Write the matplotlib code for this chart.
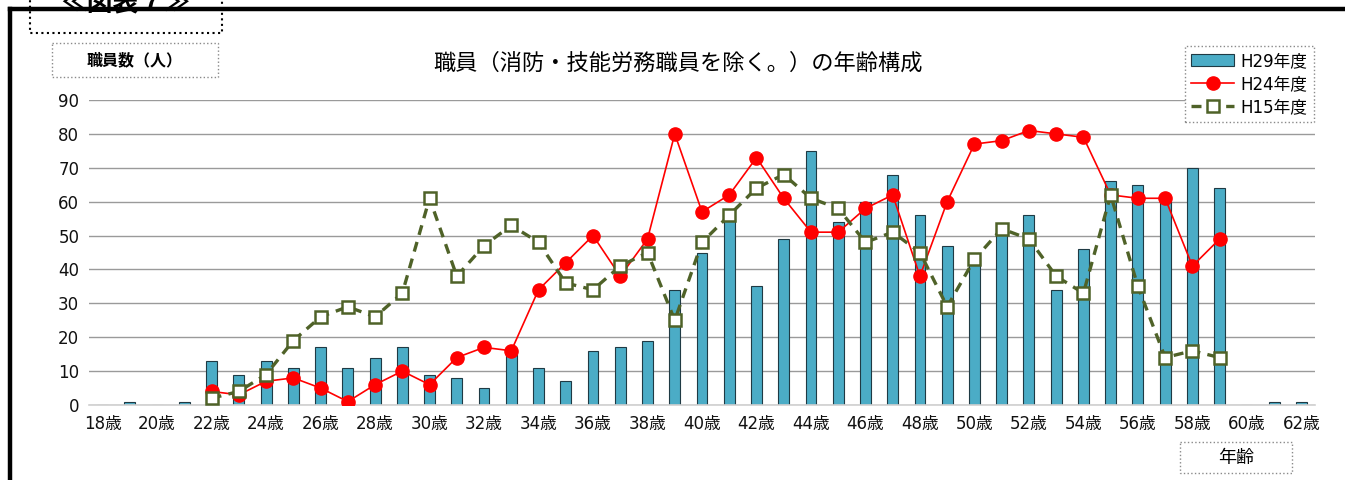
import numpy as np
import matplotlib
matplotlib.use('Agg')
import matplotlib.pyplot as plt
from matplotlib.patches import Rectangle
from matplotlib.lines import Line2D

plt.rcParams['font.family'] = ['Noto Sans CJK JP', 'DejaVu Sans']
latin_first = ['DejaVu Sans', 'Noto Sans CJK JP']

# ages 18..62, labels only on even ages
ages = list(range(18, 63))
age_labels = [f'{a}歳' if a % 2 == 0 else '' for a in ages]

# H29 (bars), one value per age 18..62
h29 = [0, 1, 0, 1, 13, 9, 13, 11, 17, 11, 14, 17, 9, 8, 5, 16, 11, 7, 16, 17,
       19, 34, 45, 55, 35, 49, 75, 54, 60, 68, 56, 47, 43, 52, 56, 34, 46, 66,
       65, 61, 70, 64, 0, 1, 1]

# line series cover ages 22..59
line_ages = list(range(22, 60))
h24 = [4, 3, 7, 8, 5, 1, 6, 10, 6, 14, 17, 16, 34, 42, 50, 38, 49, 80, 57, 62,
       73, 61, 51, 51, 58, 62, 38, 60, 77, 78, 81, 80, 79, 62, 61, 61, 41, 49]
h15 = [2, 4, 9, 19, 26, 29, 26, 33, 61, 38, 47, 53, 48, 36, 34, 41, 45, 25, 48, 56,
       64, 68, 61, 58, 48, 51, 45, 29, 43, 52, 49, 38, 33, 62, 35, 14, 16, 14]

y_ticks = list(range(0, 91, 10))

W, H = 1345, 480
fig = plt.figure(figsize=(W / 100, H / 100), dpi=100)

# main chart area
ax = fig.add_axes([89 / W, 75 / H, (1315 - 89) / W, 305 / H])
x = np.arange(len(ages))
lx = np.array([ages.index(a) for a in line_ages])

bars = ax.bar(x, h29, width=0.4, color='#4BACC6', edgecolor='#1F3A44',
              linewidth=0.8, label='H29年度', zorder=2)
l24, = ax.plot(lx, h24, color='#FF0000', linewidth=1.2, marker='o', markersize=9.5,
               label='H24年度', zorder=3)
l15, = ax.plot(lx, h15, color='#4F6228', linewidth=2.4, linestyle=(0, (3, 2.2)),
               marker='s', markersize=8.5, markerfacecolor='white',
               markeredgecolor='#4F6228', markeredgewidth=1.8, label='H15年度',
               zorder=4)

ax.set_xlim(-0.5, len(ages) - 0.5)
ax.set_ylim(0, 90)
ax.set_yticks(y_ticks)
ax.set_xticks(x)
ax.set_xticklabels(age_labels)
ax.tick_params(axis='both', length=0, labelsize=12, colors='#111111')
ax.tick_params(axis='y', pad=7)
ax.tick_params(axis='x', pad=7)
for lab in ax.get_xticklabels() + ax.get_yticklabels():
    lab.set_family(latin_first)
ax.grid(axis='y', color='#9A9A9A', linewidth=1.0, zorder=0)
ax.set_axisbelow(True)
for s in ['top', 'right', 'left']:
    ax.spines[s].set_visible(False)
ax.spines['bottom'].set_color('#D0D0D0')
ax.spines['bottom'].set_linewidth(1.2)

leg = ax.legend([bars, l24, l15], ['H29年度', 'H24年度', 'H15年度'],
                loc='upper left', bbox_to_anchor=(1185 / W, 1 - 46 / H),
                bbox_transform=fig.transFigure, frameon=True,
                prop={'family': latin_first, 'size': 12},
                fancybox=False, framealpha=1, borderpad=0.35, labelspacing=0.3,
                handlelength=2.6, handletextpad=0.4, borderaxespad=0)
leg.get_frame().set_edgecolor('#8A8A8A')
leg.get_frame().set_linestyle(':')
leg.get_frame().set_linewidth(1.0)

# overlay for frame and text boxes, in pixel coords
ov = fig.add_axes([0, 0, 1, 1], zorder=5)
ov.set_xlim(0, W)
ov.set_ylim(H, 0)
ov.axis('off')
ov.patch.set_alpha(0)

# thick outer frame
ov.add_line(Line2D([10, 10], [9, H], color='black', linewidth=3.2))
ov.add_line(Line2D([10, W], [9, 9], color='black', linewidth=3.2))

# figure number box (top cut off as in the source)
ov.add_patch(Rectangle((30, -5), 192, 38, facecolor='white', edgecolor='black',
                       linestyle=':', linewidth=1.5))
ov.text(126, 4, '≪図表７≫', ha='center', va='center', fontsize=18.5,
        fontweight='bold')

# y axis label box
ov.add_patch(Rectangle((52, 43), 166, 34, facecolor='white', edgecolor='#8A8A8A',
                       linestyle=':', linewidth=1.0))
ov.text(135, 60, '職員数（人）', ha='center', va='center', fontsize=11.5,
        fontweight='bold')

# title
ov.text(678, 63, '職員（消防・技能労務職員を除く。）の年齢構成', ha='center',
        va='center', fontsize=16)

# x axis label box
ov.add_patch(Rectangle((1180, 442), 112, 31, facecolor='white', edgecolor='#8A8A8A',
                       linestyle=':', linewidth=1.0))
ov.text(1236, 458, '年齢', ha='center', va='center', fontsize=13)

fig.savefig('out.png', dpi=100)
